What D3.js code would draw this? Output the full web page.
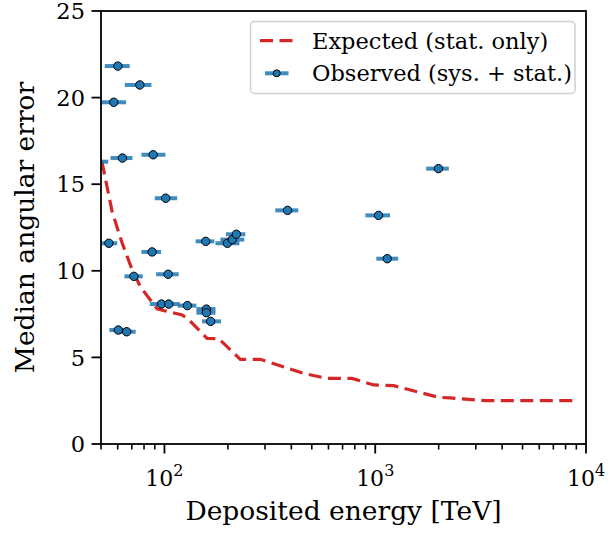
<!DOCTYPE html>
<html>
<head>
<meta charset="utf-8">
<script src="https://cdn.jsdelivr.net/npm/d3@7"></script>
<style>
  html, body { margin: 0; padding: 0; background: #fff; }
  svg { display: block; }
  text { font-family: "DejaVu Serif", serif; fill: #000; }
</style>
</head>
<body>
<svg id="chart" width="615" height="534"></svg>
<script>
// ---- data ----
const obsEnergy = [60.1, 76.4, 57.5, 63.2, 88.4, 47, 101.4, 54.5, 87.4, 157, 198.9, 209.9, 219.3, 383.8, 1037, 1140, 1995, 71.6, 104.1, 96.8, 104.8, 128.5, 158.1, 158.1, 165.7, 60.4, 66.2];
const obsEnergyLo = [52.1, 64.9, 49, 55.5, 77.8, 41, 90, 49.5, 77.8, 140.6, 174.6, 184.2, 195.9, 335.6, 897.6, 1012, 1745, 64.6, 91.3, 85.2, 92.6, 115.6, 141.8, 141.8, 150.9, 54.8, 58.6];
const obsEnergyHi = [68.4, 86.7, 65.8, 70.5, 101.1, 54.1, 114.9, 59.7, 96.4, 172.5, 226.7, 239.2, 242, 431.5, 1175, 1285, 2234, 78.9, 116.9, 109, 118.2, 141.8, 174.6, 174.6, 185.6, 67.4, 73];
const obsError = [21.82, 20.73, 19.73, 16.51, 16.70, 16.30, 14.19, 11.59, 11.09, 11.70, 11.59, 11.80, 12.11, 13.49, 13.20, 10.70, 15.90, 9.68, 9.80, 8.08, 8.08, 7.99, 7.79, 7.58, 7.08, 6.58, 6.48];

const expEnergy = [50.5, 56.5, 63.0, 70.3, 76.9, 92.3, 101, 121.4, 131, 159.3, 180.8, 229, 285, 457, 590, 776, 982, 1222, 1995, 2265, 3380, 8710];
const expError  = [16.3, 13.4, 11.6, 10.05, 9.08, 7.8, 7.68, 7.45, 7.16, 6.10, 6.08, 4.89, 4.89, 4.08, 3.79, 3.79, 3.41, 3.37, 2.70, 2.66, 2.50, 2.50];

const yTicks = [0, 5, 10, 15, 20, 25];
const xMajorTicks = [100, 1000, 10000];
const xLabel = "Deposited energy [TeV]";
const yLabel = "Median angular error";
const legendLabels = ["Expected (stat. only)", "Observed (sys. + stat.)"];

// ---- layout ----
const svg = d3.select("#chart");
const L = 101, R = 586, T = 11, B = 444;
const x = d3.scaleLog().domain([50, 10000]).range([L, R]);
const y = d3.scaleLinear().domain([0, 25]).range([B, T]);
const blue = "#1f77b4", red = "#d62728";

svg.append("defs").append("clipPath").attr("id", "plotclip")
  .append("rect").attr("x", L).attr("y", T).attr("width", R - L).attr("height", B - T);

const plot = svg.append("g").attr("clip-path", "url(#plotclip)");

// expected line
const line = d3.line().x((d, i) => x(expEnergy[i])).y((d, i) => y(expError[i]));
plot.append("path")
  .attr("d", line(expEnergy))
  .attr("fill", "none")
  .attr("stroke", red)
  .attr("stroke-width", 3.2)
  .attr("stroke-dasharray", "13,6.5");

// observed error bars
const idx = d3.range(obsEnergy.length);
plot.selectAll("line.eb").data(idx).join("line")
  .attr("class", "eb")
  .attr("x1", i => x(obsEnergyLo[i]))
  .attr("x2", i => x(obsEnergyHi[i]))
  .attr("y1", i => y(obsError[i]))
  .attr("y2", i => y(obsError[i]))
  .attr("stroke", blue)
  .attr("stroke-opacity", 0.85)
  .attr("stroke-width", 4);
plot.selectAll("circle.pt").data(idx).join("circle")
  .attr("class", "pt")
  .attr("cx", i => x(obsEnergy[i]))
  .attr("cy", i => y(obsError[i]))
  .attr("r", 4.2)
  .attr("fill", blue)
  .attr("stroke", "#000")
  .attr("stroke-width", 1);

// axes
const xMinor = [];
for (let d = 10; d <= 1000; d *= 10) for (let k = 2; k <= 9; k++) { const v = d * k; if (v >= 50 && v <= 10000) xMinor.push(v); }
const gx = svg.append("g");
gx.selectAll("line.minor").data(xMinor).join("line")
  .attr("x1", d => x(d)).attr("x2", d => x(d)).attr("y1", B).attr("y2", B + 5.5)
  .attr("stroke", "#000").attr("stroke-width", 1.6);
gx.selectAll("line.major").data(xMajorTicks).join("line")
  .attr("x1", d => x(d)).attr("x2", d => x(d)).attr("y1", B).attr("y2", B + 9.5)
  .attr("stroke", "#000").attr("stroke-width", 1.8);
const xt = gx.selectAll("text").data(xMajorTicks).join("text")
  .attr("x", d => x(d)).attr("y", 486)
  .attr("text-anchor", "middle")
  .style("font-size", "22px");
xt.append("tspan").text("10");
xt.append("tspan").attr("dy", -10).style("font-size", "16px").text(d => Math.round(Math.log10(d)));

const gy = svg.append("g");
gy.selectAll("line").data(yTicks).join("line")
  .attr("x1", L - 9.5).attr("x2", L).attr("y1", d => y(d)).attr("y2", d => y(d))
  .attr("stroke", "#000").attr("stroke-width", 1.8);
gy.selectAll("text").data(yTicks).join("text")
  .attr("x", L - 16).attr("y", d => y(d)).attr("dy", "0.36em")
  .attr("text-anchor", "end")
  .style("font-size", "22.5px")
  .text(d => d);

// frame
svg.append("rect").attr("x", L).attr("y", T).attr("width", R - L).attr("height", B - T)
  .attr("fill", "none").attr("stroke", "#000").attr("stroke-width", 1.8);

// labels
svg.append("text").attr("x", (L + R) / 2).attr("y", 520).attr("text-anchor", "middle")
  .style("font-size", "26.5px").text(xLabel);
svg.append("text").attr("transform", `translate(34,${(T + B) / 2}) rotate(-90)`)
  .attr("text-anchor", "middle").style("font-size", "26.5px").text(yLabel);

// legend
const lg = svg.append("g");
lg.append("rect").attr("x", 250.5).attr("y", 21.5).attr("width", 324.5).attr("height", 72)
  .attr("rx", 4).attr("fill", "#fff").attr("fill-opacity", 0.8)
  .attr("stroke", "#d0d0d0").attr("stroke-width", 1.5);
lg.append("line").attr("x1", 260).attr("x2", 293.5).attr("y1", 40.7).attr("y2", 40.7)
  .attr("stroke", red).attr("stroke-width", 3.2).attr("stroke-dasharray", "13,6.5");
lg.append("line").attr("x1", 265).attr("x2", 288.5).attr("y1", 73.3).attr("y2", 73.3)
  .attr("stroke", blue).attr("stroke-opacity", 0.85).attr("stroke-width", 4);
lg.append("circle").attr("cx", 276.7).attr("cy", 73.3).attr("r", 3.5)
  .attr("fill", blue).attr("stroke", "#000").attr("stroke-width", 1);
lg.selectAll("text").data(legendLabels).join("text")
  .attr("x", 312).attr("y", (d, i) => i === 0 ? 40.7 : 73.3).attr("dy", "0.36em")
  .style("font-size", "22.5px").text(d => d);
</script>
</body>
</html>
